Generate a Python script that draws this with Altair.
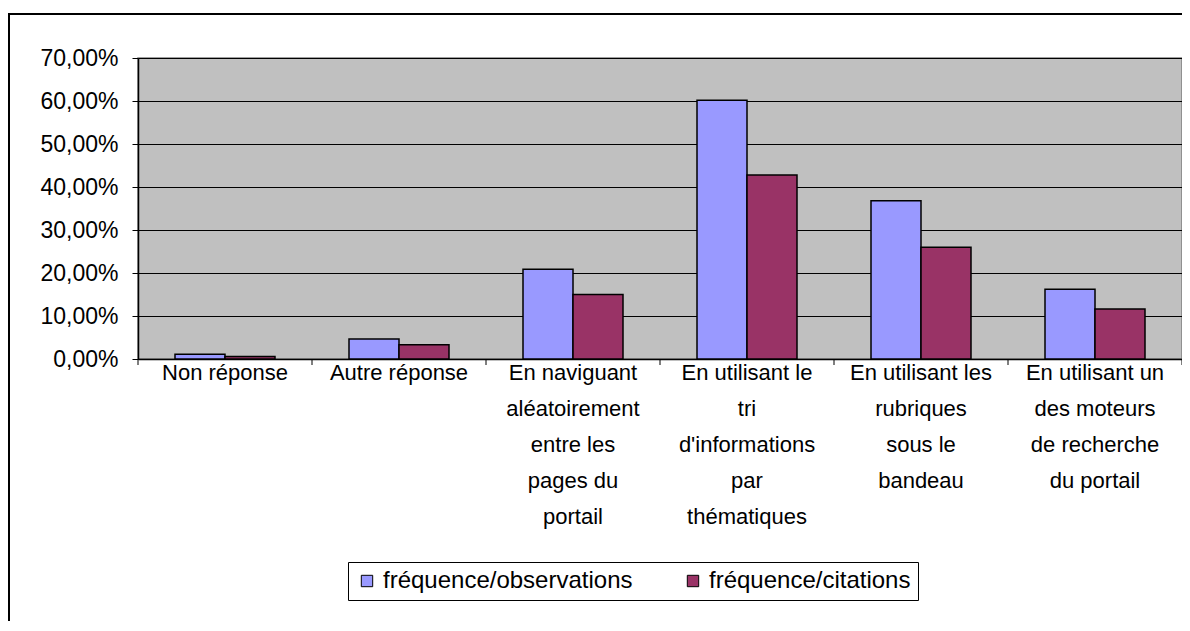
import altair as alt
import pandas as pd

categories = [
    "Non réponse",
    "Autre réponse",
    "En naviguant|aléatoirement|entre les|pages du|portail",
    "En utilisant le|tri|d'informations|par|thématiques",
    "En utilisant les|rubriques|sous le|bandeau",
    "En utilisant un|des moteurs|de recherche|du portail",
]
series = ["fréquence/observations", "fréquence/citations"]
observations = [1.1, 4.65, 20.9, 60.2, 36.8, 16.2]
citations = [0.6, 3.3, 15.0, 42.8, 26.0, 11.6]
y_ticks = [0, 10, 20, 30, 40, 50, 60, 70]
colors = ["#9999FF", "#993366"]

rows = []
for c, o, ci in zip(categories, observations, citations):
    rows.append({"category": c, "series": series[0], "value": o})
    rows.append({"category": c, "series": series[1], "value": ci})
df = pd.DataFrame(rows)
cat_df = pd.DataFrame({"category": categories})
one = pd.DataFrame({"a": [0]})

W, H = 1044, 301
FONT = "Liberation Sans"
FS = 22

frame = alt.Chart(one).mark_rect(
    fill="white", fillOpacity=0, stroke="black", strokeWidth=2
).encode(
    x=alt.value(-129), x2=alt.value(1062), y=alt.value(-44), y2=alt.value(590)
)

bars = alt.Chart(df).mark_bar(stroke="black", strokeWidth=1.5).encode(
    x=alt.X(
        "category:N",
        sort=categories,
        scale=alt.Scale(paddingInner=0, paddingOuter=0),
        axis=alt.Axis(
            title=None,
            labelAngle=0,
            ticks=False,
            grid=False,
            labelExpr="split(datum.label, '|')",
            labelLineHeight=36,
            labelBaseline="top",
            labelPadding=3,
            labelFontSize=FS,
            labelLimit=0,
            domainColor="black",
            domainWidth=1.5,
        ),
    ),
    xOffset=alt.XOffset(
        "series:N", sort=series, scale=alt.Scale(paddingInner=0, paddingOuter=0.74)
    ),
    y=alt.Y(
        "value:Q",
        scale=alt.Scale(domain=[0, 70], nice=False),
        axis=alt.Axis(
            title=None,
            values=y_ticks,
            labelExpr="replace(format(datum.value, '.2f'), '.', ',') + '%'",
            labelFontSize=23,
            labelPadding=14,
            tickSize=6,
            tickColor="black",
            grid=True,
            gridColor="black",
            gridWidth=1,
            domainColor="black",
            domainWidth=1.5,
        ),
    ),
    color=alt.Color(
        "series:N",
        sort=series,
        scale=alt.Scale(domain=series, range=colors),
        legend=alt.Legend(
            orient="none",
            legendX=210,
            legendY=504,
            direction="horizontal",
            title=None,
            symbolType="square",
            symbolSize=130,
            symbolStrokeColor="black",
            symbolStrokeWidth=1,
            labelFontSize=24,
            labelLimit=0,
            labelOffset=4,
            columnPadding=48,
            strokeColor="black",
            fillColor="white",
            padding=7,
        ),
    ),
)

xticks = alt.Chart(cat_df).mark_rule(color="black", strokeWidth=1).encode(
    x=alt.X("category:N", sort=categories, bandPosition=0),
    y=alt.value(H),
    y2=alt.value(H + 6),
)
last_tick = alt.Chart(one).mark_rule(color="black", strokeWidth=1).encode(
    x=alt.value(W), y=alt.value(H), y2=alt.value(H + 6)
)

chart = (
    alt.layer(frame, bars, xticks, last_tick)
    .properties(
        width=W,
        height=H,
        autosize=alt.AutoSizeParams(type="none"),
        padding={"left": 130, "top": 50, "right": 0, "bottom": 262},
        background="white",
    )
    .configure_view(fill="#C0C0C0", stroke="#808080", strokeWidth=1.5)
    .configure_axis(labelFont=FONT, labelColor="black")
    .configure_legend(labelFont=FONT, labelColor="black")
)

chart.save("out.html", embed_options={"renderer": "svg", "actions": False})
